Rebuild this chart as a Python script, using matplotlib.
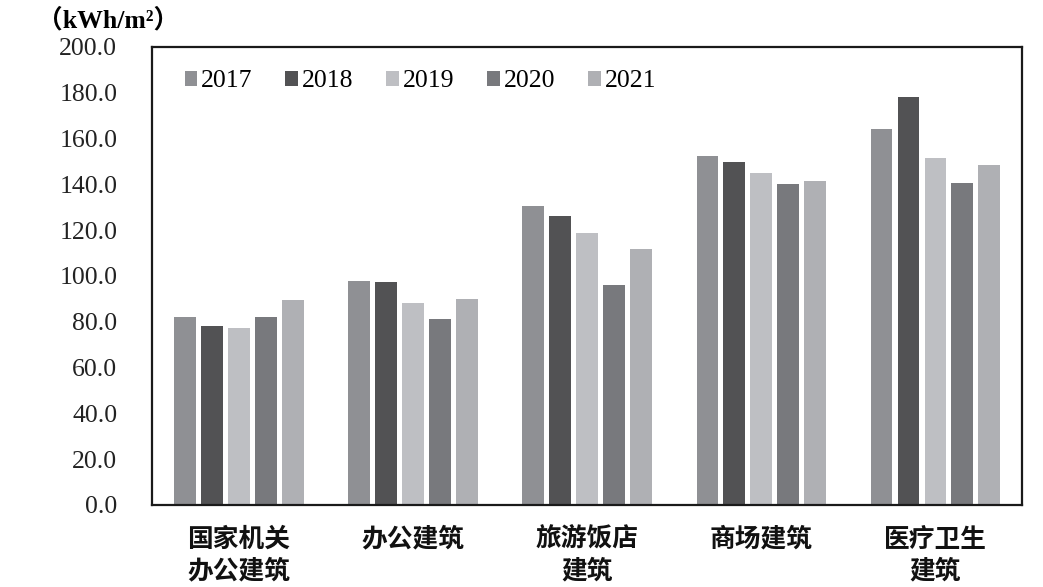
import numpy as np
import matplotlib
matplotlib.use('Agg')
import matplotlib.pyplot as plt
from matplotlib.patches import Patch

# data
categories = ['国家机关\n办公建筑', '办公建筑', '旅游饭店\n建筑', '商场建筑', '医疗卫生\n建筑']
years = ['2017', '2018', '2019', '2020', '2021']
v2017 = [81.9, 97.8, 130.6, 152.4, 164.2]
v2018 = [78.1, 97.4, 126.1, 149.8, 178.2]
v2019 = [77.2, 88.2, 118.6, 145.0, 151.7]
v2020 = [82.1, 81.4, 95.9, 140.0, 140.5]
v2021 = [89.4, 89.8, 111.8, 141.3, 148.5]
yticks = [0, 20, 40, 60, 80, 100, 120, 140, 160, 180, 200]

series = [v2017, v2018, v2019, v2020, v2021]
colors = ['#8f9094', '#525254', '#bebfc3', '#78797d', '#afb0b4']

num_font = ['Liberation Serif', 'Noto Sans CJK SC']
cat_font = ['Noto Sans CJK SC', 'DejaVu Sans']

fig = plt.figure(figsize=(10.43, 5.87), dpi=100)
ax = fig.add_axes([0.1457, 0.1397, 0.8343, 0.7803])

x = np.arange(len(categories))
step = 0.155
width = 0.122
for i, (vals, col) in enumerate(zip(series, colors)):
    ax.bar(x + (i - 2) * step, vals, width, color=col, zorder=2)

ax.set_xlim(-0.5, len(categories) - 0.5)
ax.set_ylim(0, 200)
ax.set_yticks(yticks)
ax.set_yticklabels([f'{t:.1f}' for t in yticks], family=num_font, fontsize=18.5, color='#222222')
ax.set_xticks(x)
ax.set_xticklabels(categories, family=cat_font, fontsize=18.5, fontweight='bold',
                   linespacing=1.2, color='#111111')
ax.tick_params(axis='y', length=0, pad=25)
ax.tick_params(axis='x', length=0, pad=15)
for s in ax.spines.values():
    s.set_linewidth(1.6)
    s.set_color('#1a1a1a')

handles = [Patch(facecolor=c, edgecolor='none') for c in colors]
ax.legend(handles, years, loc='upper left', bbox_to_anchor=(0.177, 0.88),
          bbox_transform=fig.transFigure, ncol=5, frameon=False,
          handlelength=0.5, handleheight=0.5, handletextpad=0.15,
          columnspacing=1.27, borderaxespad=0, borderpad=0,
          prop={'family': num_font, 'size': 18.5})

fig.text(0.035, 0.965, '（kWh/m²）', family=num_font, fontsize=18.5,
         fontweight='bold', ha='left', va='center')

fig.savefig('out.png', dpi=100)
